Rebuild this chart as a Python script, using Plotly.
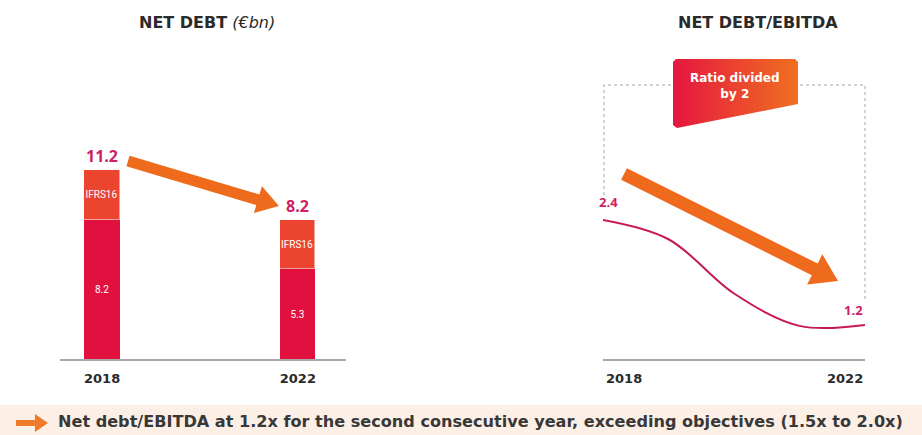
import math
import plotly.graph_objects as go

# ---------------- data ----------------
years_bar = ["2018", "2022"]
net_debt_excl_ifrs16 = [8.2, 5.3]
ifrs16 = [3.0, 2.9]
net_debt_total = [11.2, 8.2]

years_ratio = [2018, 2019, 2020, 2021, 2022]
ratio_values = [2.4, 2.18, 1.56, 1.19, 1.2]
ratio_labels = ["2.4", "", "", "", "1.2"]

W, H = 922, 435

def px(x):
    return x / W

def py(y):
    return 1 - y / H

RED = "#E2103F"
IFRS_COL = "#EB4530"
MAGENTA = "#CF2163"
LINE_COL = "#C81A52"
ORANGE = "#EE6A1C"
DARK = "#2A2A2A"

fig = go.Figure()

bar_font = dict(color="white", size=10, family="Liberation Sans Narrow, Roboto, sans-serif")
# ---------------- left: stacked bars ----------------
fig.add_trace(go.Bar(
    x=years_bar, y=net_debt_excl_ifrs16, marker=dict(color=RED, line=dict(width=0)),
    text=[f"{v:.1f}" for v in net_debt_excl_ifrs16], textposition="inside", textangle=0,
    insidetextanchor="middle", constraintext="none", textfont=bar_font,
    width=0.18, xaxis="x", yaxis="y", hoverinfo="skip", showlegend=False))
fig.add_trace(go.Bar(
    x=years_bar, y=ifrs16, marker=dict(color=IFRS_COL, line=dict(color="rgba(255,255,255,0.5)", width=1)),
    text=["IFRS16"] * len(years_bar), textposition="inside", textangle=0,
    insidetextanchor="middle", constraintext="none", textfont=bar_font,
    width=0.18, xaxis="x", yaxis="y", hoverinfo="skip", showlegend=False))

# ---------------- right: ratio line ----------------
fig.add_trace(go.Scatter(
    x=years_ratio, y=ratio_values, mode="lines",
    line=dict(color=LINE_COL, width=2, shape="spline", smoothing=1.0),
    xaxis="x2", yaxis="y2", hoverinfo="skip", showlegend=False))

# ---------------- callout (pixel overlay axis) ----------------
callout_x = [676, 795, 798, 798, 677, 673, 673, 676]
callout_y = [59, 59, 62, 104, 128, 125, 62, 59]
fig.add_trace(go.Scatter(
    x=callout_x, y=callout_y, mode="lines", fill="toself",
    line=dict(width=0, color="rgba(0,0,0,0)"),
    fillgradient=dict(type="horizontal", colorscale=[[0, "#E5163F"], [1, "#F07020"]]),
    xaxis="x3", yaxis="y3", hoverinfo="skip", showlegend=False))

ydom = [py(359), py(60)]
left_scale = 16.9
right_scale = 87.5
fig.update_layout(
    width=W, height=H,
    margin=dict(l=0, r=0, t=0, b=0),
    paper_bgcolor="white", plot_bgcolor="rgba(0,0,0,0)",
    barmode="stack", bargap=0,
    xaxis=dict(domain=[px(60), px(346)], type="category", range=[-0.215, 1.246],
               showline=True, linecolor="#A8A8A8", linewidth=1.5, showgrid=False,
               zeroline=False, ticks="outside", ticklen=7, tickcolor="rgba(0,0,0,0)",
               tickvals=years_bar, ticktext=[f"<b>{y}</b>" for y in years_bar],
               tickfont=dict(family="DejaVu Sans", size=13, color=DARK), fixedrange=True),
    yaxis=dict(domain=ydom, range=[0, (359 - 60) / left_scale], visible=False, fixedrange=True),
    xaxis2=dict(domain=[px(603), px(865)], range=[years_ratio[0], years_ratio[-1]],
                showline=True, linecolor="#A8A8A8", linewidth=1.5, showgrid=False,
                zeroline=False, showticklabels=False, fixedrange=True),
    yaxis2=dict(domain=ydom, anchor="x2",
                range=[ratio_values[-1] - (359 - 325) / right_scale,
                       ratio_values[-1] - (359 - 325) / right_scale + (359 - 60) / right_scale],
                visible=False, fixedrange=True),
    xaxis3=dict(domain=[0, 1], range=[0, W], visible=False, fixedrange=True),
    yaxis3=dict(domain=[0, 1], range=[H, 0], visible=False, fixedrange=True, anchor="x3"),
)

# ---------------- shapes ----------------
def path(points, close=True):
    s = "M " + " L ".join(f"{px(x):.5f},{py(y):.5f}" for x, y in points)
    return s + (" Z" if close else "")

def arrow(tail, tip, shaft, head_w, head_l):
    dx, dy = tip[0] - tail[0], tip[1] - tail[1]
    L = math.hypot(dx, dy)
    ux, uy = dx / L, dy / L
    nx, ny = -uy, ux
    bx, by = tip[0] - ux * head_l, tip[1] - uy * head_l
    pts = [
        (tail[0] + nx * shaft / 2, tail[1] + ny * shaft / 2),
        (bx + nx * shaft / 2, by + ny * shaft / 2),
        (bx + nx * head_w / 2, by + ny * head_w / 2),
        tip,
        (bx - nx * head_w / 2, by - ny * head_w / 2),
        (bx - nx * shaft / 2, by - ny * shaft / 2),
        (tail[0] - nx * shaft / 2, tail[1] - ny * shaft / 2),
    ]
    return path(pts)

shapes = []
shapes.append(dict(type="rect", xref="paper", yref="paper", x0=0, x1=1, y0=py(435), y1=py(405),
                   fillcolor="#FCEFE6", line=dict(width=0), layer="below"))
shapes.append(dict(type="path", xref="paper", yref="paper",
                   path=path([(604, 195), (604, 85), (865, 85), (865, 300)], close=False),
                   line=dict(color="#C4C4C4", width=1.5, dash="dot"), layer="below"))
shapes.append(dict(type="path", xref="paper", yref="paper",
                   path=arrow((128, 161), (279, 206), 11, 28, 22),
                   fillcolor=ORANGE, line=dict(width=0), layer="above"))
shapes.append(dict(type="path", xref="paper", yref="paper",
                   path=arrow((624, 174), (838, 281), 13, 34, 26),
                   fillcolor=ORANGE, line=dict(width=0), layer="above"))
shapes.append(dict(type="path", xref="paper", yref="paper",
                   path=arrow((16, 423), (48, 423), 6, 18, 13),
                   fillcolor="#F07A2C", line=dict(width=0), layer="above"))
fig.update_layout(shapes=shapes)

# ---------------- annotations ----------------
ann = []
title_font = dict(family="DejaVu Sans", size=16, color=DARK)
ann.append(dict(xref="paper", yref="paper", x=px(207), y=py(22), xanchor="center", yanchor="middle",
                text="<b>NET DEBT</b> <i>(€bn)</i>", showarrow=False, font=title_font))
ann.append(dict(xref="paper", yref="paper", x=px(758), y=py(22), xanchor="center", yanchor="middle",
                text="<b>NET DEBT/EBITDA</b>", showarrow=False, font=title_font))
for i, tot in enumerate(net_debt_total):
    ann.append(dict(xref="x", yref="y", x=i, y=tot, yanchor="bottom", yshift=1,
                    text=f"<b>{tot:.1f}</b>", showarrow=False,
                    font=dict(family="Open Sans", size=16, color=MAGENTA)))
ann.append(dict(xref="x2", yref="y2", x=years_ratio[0], y=ratio_values[0], xanchor="left",
                yanchor="bottom", xshift=-6, yshift=7, text=f"<b>{ratio_labels[0]}</b>", showarrow=False,
                font=dict(family="Open Sans", size=13, color=MAGENTA)))
ann.append(dict(xref="x2", yref="y2", x=years_ratio[-1], y=ratio_values[-1], xanchor="right",
                yanchor="bottom", yshift=4, text=f"<b>{ratio_labels[-1]}</b>", showarrow=False,
                font=dict(family="Open Sans", size=13, color=MAGENTA)))
ann.append(dict(xref="x2", yref="paper", x=years_ratio[0], y=py(378), xanchor="left", yanchor="middle",
                text=f"<b>{years_ratio[0]}</b>", showarrow=False, xshift=1,
                font=dict(family="DejaVu Sans", size=13, color=DARK)))
ann.append(dict(xref="x2", yref="paper", x=years_ratio[-1], y=py(378), xanchor="right", yanchor="middle",
                text=f"<b>{years_ratio[-1]}</b>", showarrow=False,
                font=dict(family="DejaVu Sans", size=13, color=DARK)))
ann.append(dict(xref="paper", yref="paper", x=px(735), y=py(86), xanchor="center", yanchor="middle",
                text="<b>Ratio divided<br>by 2</b>", showarrow=False,
                font=dict(family="DejaVu Sans", size=12, color="white")))
ann.append(dict(xref="paper", yref="paper", x=px(56), y=py(421), xanchor="left", yanchor="middle",
                text="<b>Net debt/EBITDA at 1.2x for the second consecutive year, exceeding objectives (1.5x to 2.0x)</b>",
                showarrow=False, font=dict(family="DejaVu Sans", size=16.1, color="#383838")))
fig.update_layout(annotations=ann)

fig.write_html("out.html", config={"displayModeBar": False},
               post_script="document.body.style.margin='0';document.body.style.overflow='hidden';")
